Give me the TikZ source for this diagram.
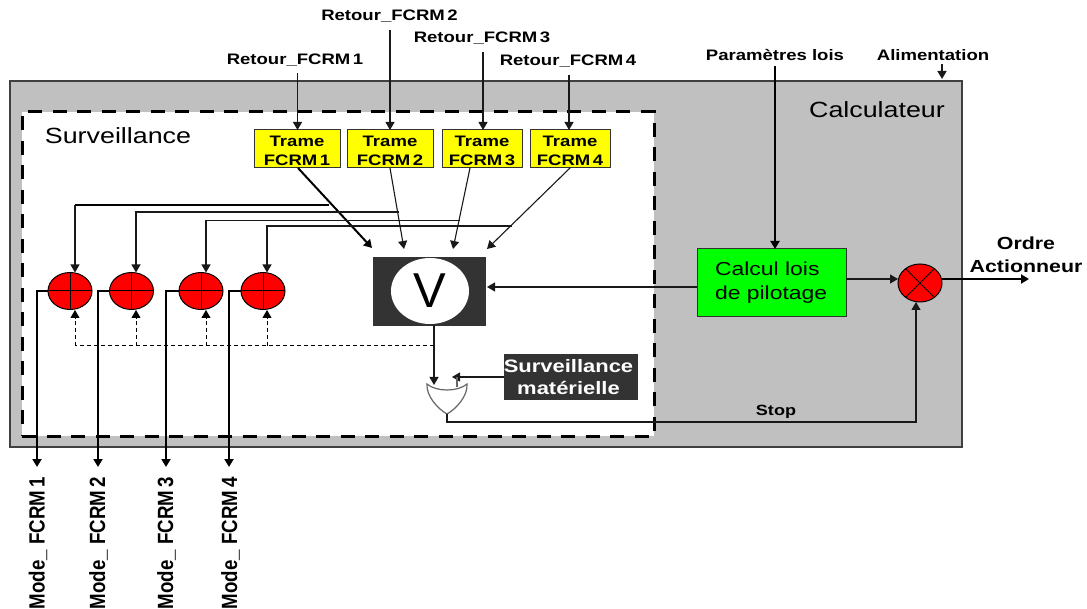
\documentclass[tikz,border=0pt]{standalone}
\usepackage{fontspec}
\setmainfont{Liberation Sans}
\newfontfamily\wide[FakeStretch=1.22]{Liberation Sans}
\newfontfamily\narrow[FakeStretch=0.85]{Liberation Sans}
\usetikzlibrary{arrows.meta,shapes.geometric}
\definecolor{calc}{HTML}{C0C0C0}
\definecolor{darkbox}{HTML}{333333}
\definecolor{fred}{HTML}{FF0000}
\definecolor{fyellow}{HTML}{FFFF00}
\definecolor{fgreen}{HTML}{00FF00}
\tikzset{
  x=1pt,y=-1pt,
  every node/.style={inner sep=0pt,outer sep=0pt,align=center},
  lab/.style={font=\wide\bfseries\fontsize{15.2}{18}\selectfont},
  vlab/.style={rotate=90,font=\narrow\bfseries\fontsize{22}{24}\selectfont},
  big/.style={font=\wide\fontsize{22}{26}\selectfont},
  trame/.style={draw=black!80,line width=1pt,fill=fyellow,minimum height=38pt},
  tramet/.style={font=\wide\bfseries\fontsize{15.2}{18.5}\selectfont},
  sumnode/.style={draw=black,line width=1pt,fill=fred,ellipse,minimum width=44pt,minimum height=37pt},
  arr/.style={-{Triangle[length=8pt,width=9pt]},line width=1.1pt,black!90},
  arrthick/.style={-{Triangle[length=8pt,width=9pt]},line width=2pt,black},
  dasharr/.style={-{Triangle[length=8pt,width=9pt]},line width=1pt,dash pattern=on 4pt off 3pt},
  dashline/.style={line width=1pt,dash pattern=on 4pt off 3pt},
}
\begin{document}
\begin{tikzpicture}
\useasboundingbox (0,0) rectangle (1087,609);
% frames
\node[draw=black!75,line width=1.4pt,fill=calc,minimum width=952pt,minimum height=366pt] (calc) at (486,264) {};
\node[draw=black,line width=3pt,fill=white,dash pattern=on 14pt off 10.5pt,minimum width=632pt,minimum height=324pt] (surv) at (338,274) {};
\node[big] (calctxt) at (877,110) {Calculateur};
\node[big] (survtxt) at (118,136) {Surveillance};
% top labels
\node[lab] (r1) at (295,60) {Retour\_FCRM\,1};
\node[lab] (r2) at (389.5,16) {Retour\_FCRM\,2};
\node[lab] (r3) at (482,38) {Retour\_FCRM\,3};
\node[lab] (r4) at (568,61) {Retour\_FCRM\,4};
\node[lab] (par) at (775,55) {Paramètres lois};
\node[lab] (ali) at (933,55) {Alimentation};
\coordinate (r1a) at (297.5,73);
\coordinate (r2a) at (390,30);
\coordinate (r3a) at (483,52);
\coordinate (r4a) at (569,75);
\coordinate (para) at (775,66);
\coordinate (alia) at (942,64);
\coordinate (alib) at (942,79);
% trames
\node[trame,minimum width=86pt] (t1) at (297,149) {};
\node[trame,minimum width=86pt] (t2) at (390,149) {};
\node[trame,minimum width=80pt] (t3) at (482,149) {};
\node[trame,minimum width=80pt] (t4) at (570,149) {};
\node[tramet] (t1t) at (297,151) {Trame\\FCRM\,1};
\node[tramet] (t2t) at (390,151) {Trame\\FCRM\,2};
\node[tramet] (t3t) at (482,151) {Trame\\FCRM\,3};
\node[tramet] (t4t) at (570,151) {Trame\\FCRM\,4};
\draw[arr] (r1a) -- (t1.north -| r1a);
\draw[arr] (r2a) -- (t2.north -| r2a);
\draw[arr] (r3a) -- (t3.north -| r3a);
\draw[arr] (r4a) -- (t4.north -| r4a);
% sums
\foreach \n/\x in {s1/70,s2/131.5,s3/201,s4/263}{
  \node[sumnode] (\n) at (\x,291) {};
  \draw[line width=1pt] (\n.north) -- (\n.south) (\n.west) -- (\n.east);
}
% V box
\node[draw=black!80,line width=.8pt,fill=darkbox,minimum width=112pt,minimum height=68pt] (vbox) at (429,291) {};
\node[fill=white,ellipse,minimum width=78pt,minimum height=66pt,font=\fontsize{49}{49}\selectfont] (vc) at (430,291) {V};
% calc
\node[draw=black!80,line width=1pt,fill=fgreen,minimum width=149pt,minimum height=68pt] (law) at (771.5,283) {};
\node[anchor=west,align=left,font=\wide\fontsize{18.8}{24}\selectfont] (lawt) at (715,283) {Calcul lois\\de pilotage};
\node[sumnode,minimum height=38pt] (x) at (920,283) {};
\draw[line width=1pt] (x.135) -- (x.-45) (x.45) -- (x.-135);
\node[font=\wide\bfseries\fontsize{17.5}{22.5}\selectfont] (ord) at (1026,254.5) {Ordre\\Actionneur};
\node[draw=black!80,line width=.8pt,fill=darkbox,minimum width=133pt,minimum height=45pt] (mat) at (570.5,376.5) {};
\node[text=white,font=\wide\bfseries\fontsize{18}{22}\selectfont] (matt) at (568.5,377) {Surveillance\\matérielle};
\node[font=\wide\bfseries\fontsize{14.8}{16}\selectfont] (stoplab) at (776,412) {Stop};
% gate
\coordinate (gl) at (427,384);
\coordinate (gr) at (467,384);
\coordinate (gt) at (447,414);
\coordinate (gin1) at (434,385);
\coordinate (gin2) at (457,387);
\coordinate (gout) at (447,422);
\coordinate (gnk) at (457,377);
\draw[black!60,line width=1.2pt,fill=white] (gl) .. controls (436,392) and (458,392) .. (gr)
  .. controls (468,396) and (456,409) .. (gt) .. controls (438,409) and (426,396) .. (gl) -- cycle;
% connectors to V
\coordinate (v1) at (372,248);
\coordinate (v2) at (404,249);
\coordinate (v3) at (453,249);
\coordinate (v4) at (487,249);
\coordinate (t1b) at (298,168);
\coordinate (t2b) at (390,168);
\coordinate (t3b) at (470,168);
\coordinate (t4b) at (570,168);
\draw[arrthick] (t1b) -- (v1);
\draw[arr] (t2b) -- (v2);
\draw[arr] (t3b) -- (v3);
\draw[arr] (t4b) -- (v4);
% returns to sums
\coordinate (e1) at (329,205);
\coordinate (e2) at (399,212);
\coordinate (e3) at (460,220.5);
\coordinate (e4) at (512,226);
\coordinate (f1) at (75,272.5);
\coordinate (f2) at (136,272.5);
\coordinate (f3) at (206,272.5);
\coordinate (f4) at (267,272.5);
\draw[line width=2pt] (e1) -- (e1 -| f1);
\draw[arr] (e1 -| f1) -- (f1);
\draw[arr] (e2) -- (e2 -| f2) -- (f2);
\draw[arr] (e3) -- (e3 -| f3) -- (f3);
\draw[arr] (e4) -- (e4 -| f4) -- (f4);
% dashed
\coordinate (d0) at (434,346);
\coordinate (d1) at (75,346);
\coordinate (d2) at (136,346);
\coordinate (d3) at (206,346);
\coordinate (d4) at (267,346);
\coordinate (u1) at (75,310);
\coordinate (u2) at (136,310);
\coordinate (u3) at (206,310);
\coordinate (u4) at (267,310);
\draw[dashline] (d0) -- (d1);
\draw[dasharr] (d1) -- (u1);
\draw[dasharr] (d2) -- (u2);
\draw[dasharr] (d3) -- (u3);
\draw[dasharr] (d4) -- (u4);
% outputs
\coordinate (o1) at (37,467);
\coordinate (o2) at (98,467);
\coordinate (o3) at (166,467);
\coordinate (o4) at (229,467);
\draw[arrthick] (s1.west) -- (s1.west -| o1) -- (o1);
\draw[arrthick] (s2.west) -- (s2.west -| o2) -- (o2);
\draw[arrthick] (s3.west) -- (s3.west -| o3) -- (o3);
\draw[arrthick] (s4.west) -- (s4.west -| o4) -- (o4);
\node[vlab] (m1) at (38,543) {Mode\_ FCRM\,1};
\node[vlab] (m2) at (98.5,543) {Mode\_ FCRM\,2};
\node[vlab] (m3) at (166.5,543) {Mode\_ FCRM\,3};
\node[vlab] (m4) at (230.5,543) {Mode\_ FCRM\,4};
% right
\coordinate (lawv) at (697,287);
\coordinate (vin) at (487,287);
\coordinate (lawtop) at (775,249);
\draw[arr] (lawv) -- (vin);
\draw[arrthick] (para) -- (lawtop);
\draw[arr,line width=1.6pt] (alia) -- (alib);
\coordinate (lawx) at (846,279);
\coordinate (xin) at (898,279);
\draw[arr] (lawx) -- (xin);
\coordinate (xo) at (942,279);
\coordinate (ordo) at (1029,279);
\draw[arrthick] (xo) -- (ordo);
\coordinate (stopup) at (916,302);
\draw[arr] (gt) -- (gout) -- (gout -| stopup) -- (stopup);
% gate inputs
\draw[arr] (vbox.south -| gin1) -- (gin1);
\coordinate (matin) at (452,377);
\draw[arr] (mat.west |- gnk) -- (matin);
\draw[black!60,line width=1.2pt] (gnk) -- (gin2);
\end{tikzpicture}
\end{document}
